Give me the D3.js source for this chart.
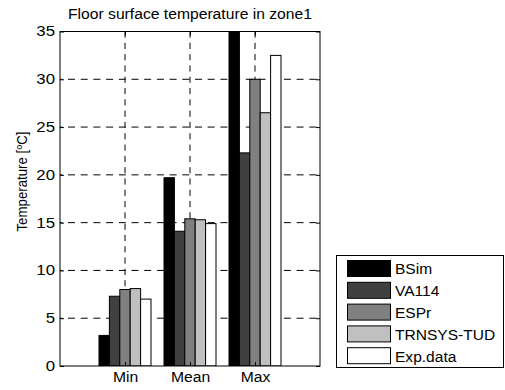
<!DOCTYPE html>
<html><head><meta charset="utf-8">
<script src="https://cdn.jsdelivr.net/npm/d3@7"></script>
<style>body{margin:0;background:#fff}svg{display:block}text{font-family:"Liberation Sans",Arial,sans-serif;}</style>
</head><body>
<script>
const categories = ["Min", "Mean", "Max"];
const seriesNames = ["BSim", "VA114", "ESPr", "TRNSYS-TUD", "Exp.data"];
const seriesColors = ["#000000", "#404040", "#808080", "#c0c0c0", "#ffffff"];
const BSim = [3.2, 19.7, 36];
const VA114 = [7.3, 14.1, 22.3];
const ESPr = [8.0, 15.4, 30.0];
const TRNSYS = [8.1, 15.3, 26.5];
const ExpData = [7.0, 14.9, 32.5];
const yTicks = [0, 5, 10, 15, 20, 25, 30, 35];
const series = [BSim, VA114, ESPr, TRNSYS, ExpData];

const W = 505, H = 390;
const svg = d3.select("body").append("svg").attr("width", W).attr("height", H);
const L = 60, R = 320, T = 31.5, B = 366;
const x = d3.scaleLinear().domain([0, 4]).range([L, R]);
const y = d3.scaleLinear().domain([0, 35]).range([B, T]);

function stretch(sel, f) {
  sel.each(function() {
    const len = this.getComputedTextLength();
    d3.select(this).attr("textLength", len * f).attr("lengthAdjust", "spacingAndGlyphs");
  });
}

svg.append("defs").append("clipPath").attr("id", "clip")
  .append("rect").attr("x", L).attr("y", T).attr("width", R - L).attr("height", B - T);

// grid
const g = svg.append("g");
g.selectAll(".gy").data(yTicks.slice(1, -1)).enter().append("line")
  .attr("x1", L).attr("x2", R).attr("y1", d => y(d)).attr("y2", d => y(d))
  .attr("stroke", "#000").attr("stroke-width", 1).attr("stroke-dasharray", "7,5.7")
  .attr("stroke-dashoffset", -8);
g.selectAll(".gx").data([1, 2, 3]).enter().append("line")
  .attr("x1", d => x(d)).attr("x2", d => x(d)).attr("y1", T).attr("y2", B)
  .attr("stroke", "#000").attr("stroke-width", 1).attr("stroke-dasharray", "6.2,5.1");

// bars
const groupW = 0.8;
const bw = groupW / series.length;
const bars = svg.append("g").attr("clip-path", "url(#clip)");
series.forEach((vals, si) => {
  bars.selectAll(".b" + si).data(vals).enter().append("rect")
    .attr("x", (d, i) => x(i + 1 - groupW / 2 + si * bw))
    .attr("width", x(bw) - x(0))
    .attr("y", d => y(d))
    .attr("height", d => y(0) - y(d))
    .attr("fill", seriesColors[si])
    .attr("stroke", "#000").attr("stroke-width", 1);
});

// frame
svg.append("rect").attr("x", L).attr("y", T).attr("width", R - L).attr("height", B - T)
  .attr("fill", "none").attr("stroke", "#000").attr("stroke-width", 1);

// axes
const yAxis = d3.axisLeft(y).tickValues(yTicks).tickSize(-4).tickPadding(5).tickFormat(d3.format("d"));
const ya = svg.append("g").attr("transform", `translate(${L},0)`).call(yAxis);
ya.select(".domain").remove();
ya.selectAll("text").attr("font-size", 14).attr("font-family", "Liberation Sans, Arial, sans-serif").attr("fill", "#000");
stretch(ya.selectAll("text"), 1.2);
const yAxisR = d3.axisRight(y).tickValues(yTicks).tickSize(-4).tickFormat("");
svg.append("g").attr("transform", `translate(${R},0)`).call(yAxisR).select(".domain").remove();

const xAxis = d3.axisBottom(x).tickValues([1, 2, 3]).tickSize(-4).tickPadding(6).tickFormat((d) => categories[d - 1]);
const xa = svg.append("g").attr("transform", `translate(0,${B})`).call(xAxis);
xa.select(".domain").remove();
xa.selectAll("text").attr("font-size", 14).attr("font-family", "Liberation Sans, Arial, sans-serif").attr("fill", "#000");
stretch(xa.selectAll("text"), 1.12);
const xAxisT = d3.axisTop(x).tickValues([1, 2, 3]).tickSize(-4).tickFormat("");
svg.append("g").attr("transform", `translate(0,${T})`).call(xAxisT).select(".domain").remove();

// title
const title = svg.append("text").attr("x", (L + R) / 2).attr("y", 19).attr("text-anchor", "middle")
  .attr("font-size", 14).text("Floor surface temperature in zone1");
stretch(title, 1.12);

// y label
const yl = svg.append("text").attr("transform", `translate(27,181.5) rotate(-90)`)
  .attr("text-anchor", "middle").attr("font-size", 14);
yl.append("tspan").text("Temperature [");
yl.append("tspan").attr("font-size", 9.5).attr("dy", -5.5).text("o");
yl.append("tspan").attr("dy", 5.5).text("C]");
yl.attr("textLength", 100).attr("lengthAdjust", "spacingAndGlyphs");

// legend
const lg = svg.append("g");
lg.append("rect").attr("x", 336.5).attr("y", 255.5).attr("width", 167).attr("height", 112)
  .attr("fill", "#fff").attr("stroke", "#000");
seriesNames.forEach((n, i) => {
  const yy = 260 + i * 21.8;
  lg.append("rect").attr("x", 347.5).attr("y", yy + 0.5).attr("width", 43).attr("height", 16)
    .attr("fill", seriesColors[i]).attr("stroke", "#000");
  const t = lg.append("text").attr("x", 395).attr("y", yy + 14.3).attr("font-size", 14).text(n);
  stretch(t, 1.11);
});
</script>
</body></html>
